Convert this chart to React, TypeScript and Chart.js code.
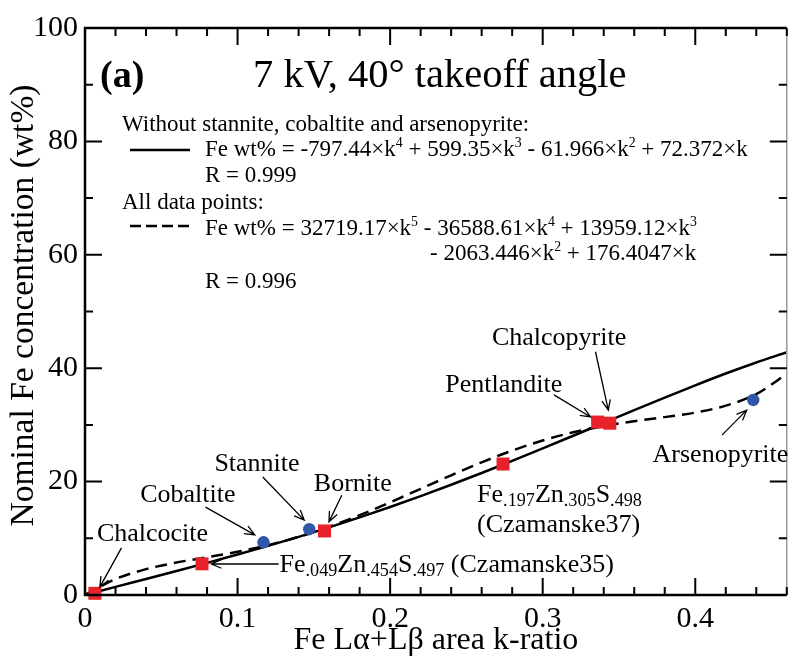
import React, { useEffect, useRef } from 'react';
import { Chart, registerables } from 'chart.js';

Chart.register(...registerables);

const FONT = "'Liberation Serif', 'Times New Roman', Times, serif";

// ---- axis ticks ----
const xTickValues = [0, 0.1, 0.2, 0.3, 0.4];
const xTickLabels = ['0', '0.1', '0.2', '0.3', '0.4'];
const yTickValues = [0, 20, 40, 60, 80, 100];
const yTickLabels = ['0', '20', '40', '60', '80', '100'];
const xMinorStep = 0.02;
const yMinorStep = 10;
const xTitle = 'Fe L\u03B1+L\u03B2 area k-ratio';
const yTitle = 'Nominal Fe concentration (wt%)';

// ---- measured points (red squares: used in fit; blue circles: excluded) ----
const squareK = [0.0065, 0.0767, 0.157, 0.274, 0.336, 0.344];
const squareFe = [0.3, 5.5, 11.3, 23.1, 30.5, 30.3];
const circleK = [0.117, 0.147, 0.438];
const circleFe = [9.3, 11.6, 34.4];

// ---- fitted curves, read at k steps ----
const fitK = [0, 0.02, 0.04, 0.06, 0.08, 0.1, 0.12, 0.14, 0.16, 0.18, 0.2, 0.22, 0.24, 0.26, 0.28, 0.3, 0.32, 0.34, 0.36, 0.38, 0.4, 0.42, 0.44, 0.46];
const fitSolid = [0, 1.43, 2.83, 4.24, 5.67, 7.14, 8.66, 10.26, 11.93, 13.68, 15.51, 17.44, 19.44, 21.52, 23.66, 25.86, 28.09, 30.34, 32.59, 34.81, 36.98, 39.06, 41.01, 42.81];
const fitDashed = [0, 2.81, 4.56, 5.72, 6.66, 7.63, 8.8, 10.26, 12.03, 14.08, 16.34, 18.73, 21.11, 23.4, 25.47, 27.25, 28.7, 29.81, 30.65, 31.37, 32.17, 33.39, 35.44, 39.0];

type Part = { t: string; s?: 'sup' | 'sub' };

// ---- annotation labels (anchored in data units) ----
const annoLabels: { parts: Part[]; k: number; fe: number }[] = [
  { parts: [{ t: 'Chalcocite' }], k: 0.0078, fe: 9.5 },
  { parts: [{ t: 'Cobaltite' }], k: 0.0362, fe: 16.4 },
  { parts: [{ t: 'Stannite' }], k: 0.0848, fe: 21.9 },
  { parts: [{ t: 'Bornite' }], k: 0.150, fe: 18.3 },
  { parts: [{ t: 'Fe' }, { t: '.049', s: 'sub' }, { t: 'Zn' }, { t: '.454', s: 'sub' }, { t: 'S' }, { t: '.497', s: 'sub' }, { t: ' (Czamanske35)' }], k: 0.1275, fe: 4.06 },
  { parts: [{ t: 'Fe' }, { t: '.197', s: 'sub' }, { t: 'Zn' }, { t: '.305', s: 'sub' }, { t: 'S' }, { t: '.498', s: 'sub' }], k: 0.257, fe: 16.4 },
  { parts: [{ t: '(Czamanske37)' }], k: 0.257, fe: 11.1 },
  { parts: [{ t: 'Pentlandite' }], k: 0.2362, fe: 35.8 },
  { parts: [{ t: 'Chalcopyrite' }], k: 0.2667, fe: 44.1 },
  { parts: [{ t: 'Arsenopyrite' }], k: 0.372, fe: 23.5 },
];

const annoArrows: { k1: number; fe1: number; k2: number; fe2: number }[] = [
  { k1: 0.0239, fe1: 8.3, k2: 0.0097, fe2: 1.4 },
  { k1: 0.079, fe1: 15.5, k2: 0.1113, fe2: 10.6 },
  { k1: 0.1165, fe1: 20.8, k2: 0.1437, fe2: 13.2 },
  { k1: 0.1683, fe1: 17.6, k2: 0.1599, fe2: 12.9 },
  { k1: 0.1269, fe1: 5.47, k2: 0.0828, fe2: 5.47 },
  { k1: 0.3074, fe1: 35.3, k2: 0.3314, fe2: 31.4 },
  { k1: 0.3346, fe1: 42.9, k2: 0.343, fe2: 32.6 },
  { k1: 0.4175, fe1: 28.2, k2: 0.4337, fe2: 32.6 },
];

function drawRich(ctx: CanvasRenderingContext2D, parts: Part[], x: number, y: number, size: number) {
  let cx = x;
  ctx.textAlign = 'left';
  ctx.textBaseline = 'alphabetic';
  for (const p of parts) {
    let s = size;
    let dy = 0;
    if (p.s === 'sup') { s = size * 0.6; dy = -size * 0.38; }
    if (p.s === 'sub') { s = size * 0.7; dy = size * 0.15; }
    ctx.font = `${s}px ${FONT}`;
    ctx.fillText(p.t, cx, y + dy);
    cx += ctx.measureText(p.t).width;
  }
}

function drawArrow(ctx: CanvasRenderingContext2D, x1: number, y1: number, x2: number, y2: number) {
  const ang = Math.atan2(y2 - y1, x2 - x1);
  const hl = 11;
  const ha = 0.4;
  ctx.beginPath();
  ctx.moveTo(x1, y1);
  ctx.lineTo(x2, y2);
  ctx.moveTo(x2 - hl * Math.cos(ang - ha), y2 - hl * Math.sin(ang - ha));
  ctx.lineTo(x2, y2);
  ctx.lineTo(x2 - hl * Math.cos(ang + ha), y2 - hl * Math.sin(ang + ha));
  ctx.stroke();
}

const decorPlugin = {
  id: 'decor',
  afterDraw(chart: any) {
    const { ctx, chartArea: ca, scales } = chart;
    const xs = scales.x;
    const ys = scales.y;
    ctx.save();
    ctx.fillStyle = '#000';
    ctx.strokeStyle = '#000';

    // frame
    ctx.lineWidth = 2.5;
    ctx.beginPath();
    ctx.moveTo(ca.right, ca.top);
    ctx.lineTo(ca.left, ca.top);
    ctx.lineTo(ca.left, ca.bottom);
    ctx.lineTo(ca.right, ca.bottom);
    ctx.stroke();
    ctx.strokeStyle = '#9a9a9a';
    ctx.lineWidth = 1.5;
    ctx.beginPath();
    ctx.moveTo(ca.right, ca.top);
    ctx.lineTo(ca.right, ca.bottom);
    ctx.stroke();

    // inward ticks on all four sides
    ctx.strokeStyle = '#000';
    ctx.lineWidth = 2;
    const nx = Math.floor((xs.max + 1e-9) / xMinorStep);
    for (let i = 1; i <= nx; i++) {
      const v = i * xMinorStep;
      const px = xs.getPixelForValue(v);
      const L = i % 5 === 0 ? 17 : 8;
      ctx.beginPath();
      ctx.moveTo(px, ca.bottom);
      ctx.lineTo(px, ca.bottom - L);
      ctx.moveTo(px, ca.top);
      ctx.lineTo(px, ca.top + L);
      ctx.stroke();
    }
    const ny = Math.round(ys.max / yMinorStep);
    for (let i = 1; i < ny; i++) {
      const v = i * yMinorStep;
      const py = ys.getPixelForValue(v);
      const L = i % 2 === 0 ? 17 : 8;
      ctx.beginPath();
      ctx.moveTo(ca.left, py);
      ctx.lineTo(ca.left + L, py);
      ctx.moveTo(ca.right, py);
      ctx.lineTo(ca.right - L, py);
      ctx.stroke();
    }

    // y axis title
    ctx.save();
    ctx.translate(33, (ca.top + ca.bottom) / 2 - 6);
    ctx.rotate(-Math.PI / 2);
    ctx.textAlign = 'center';
    ctx.textBaseline = 'alphabetic';
    ctx.font = `33.5px ${FONT}`;
    ctx.fillText(yTitle, 0, 0);
    ctx.restore();

    // panel title
    ctx.textBaseline = 'alphabetic';
    ctx.textAlign = 'left';
    ctx.font = `bold 38px ${FONT}`;
    ctx.fillText('(a)', ca.left + 15, ca.top + 59);
    ctx.font = `40.5px ${FONT}`;
    ctx.fillText('7 kV, 40\u00B0 takeoff angle', ca.left + 168, ca.top + 59);

    // fit legend
    const L0 = ca.left;
    const T0 = ca.top;
    const fs = 23;
    ctx.font = `${fs}px ${FONT}`;
    ctx.fillText('Without stannite, cobaltite and arsenopyrite:', L0 + 37, T0 + 103);
    drawRich(ctx, [
      { t: 'Fe wt% = -797.44\u00D7k' }, { t: '4', s: 'sup' },
      { t: ' + 599.35\u00D7k' }, { t: '3', s: 'sup' },
      { t: ' - 61.966\u00D7k' }, { t: '2', s: 'sup' },
      { t: ' + 72.372\u00D7k' },
    ], L0 + 120, T0 + 128, fs);
    ctx.font = `${fs}px ${FONT}`;
    ctx.fillText('R = 0.999', L0 + 120, T0 + 154);
    ctx.fillText('All data points:', L0 + 37, T0 + 181);
    drawRich(ctx, [
      { t: 'Fe wt% = 32719.17\u00D7k' }, { t: '5', s: 'sup' },
      { t: ' - 36588.61\u00D7k' }, { t: '4', s: 'sup' },
      { t: ' + 13959.12\u00D7k' }, { t: '3', s: 'sup' },
    ], L0 + 120, T0 + 207, fs);
    drawRich(ctx, [
      { t: '- 2063.446\u00D7k' }, { t: '2', s: 'sup' },
      { t: ' + 176.4047\u00D7k' },
    ], L0 + 345, T0 + 232, fs);
    ctx.font = `${fs}px ${FONT}`;
    ctx.fillText('R = 0.996', L0 + 120, T0 + 260);

    ctx.lineWidth = 2.5;
    ctx.beginPath();
    ctx.moveTo(L0 + 45, T0 + 122);
    ctx.lineTo(L0 + 105, T0 + 122);
    ctx.stroke();
    ctx.setLineDash([11, 5]);
    ctx.beginPath();
    ctx.moveTo(L0 + 45, T0 + 198);
    ctx.lineTo(L0 + 105, T0 + 198);
    ctx.stroke();
    ctx.setLineDash([]);

    // annotations
    for (const a of annoLabels) {
      drawRich(ctx, a.parts, xs.getPixelForValue(a.k), ys.getPixelForValue(a.fe), 26);
    }
    ctx.lineWidth = 1.3;
    for (const a of annoArrows) {
      drawArrow(ctx, xs.getPixelForValue(a.k1), ys.getPixelForValue(a.fe1), xs.getPixelForValue(a.k2), ys.getPixelForValue(a.fe2));
    }
    ctx.restore();
  },
};

export default function App() {
  const ref = useRef<HTMLCanvasElement | null>(null);
  useEffect(() => {
    document.body.style.margin = '0';
    const canvas = ref.current;
    if (!canvas) return;
    const chart = new Chart(canvas, {
      type: 'scatter',
      data: {
        datasets: [
          {
            label: 'Used in fit',
            data: squareK.map((k, i) => ({ x: k, y: squareFe[i] })),
            pointStyle: 'rect',
            pointRadius: 9.2,
            backgroundColor: '#E8222A',
            borderColor: '#E8222A',
            borderWidth: 0,
            clip: false,
          } as any,
          {
            label: 'Excluded',
            data: circleK.map((k, i) => ({ x: k, y: circleFe[i] })),
            pointStyle: 'circle',
            pointRadius: 6.2,
            backgroundColor: '#2F56A8',
            borderColor: '#2F56A8',
            borderWidth: 0,
            clip: false,
          } as any,
          {
            label: 'Fit without stannite, cobaltite, arsenopyrite',
            data: fitK.map((k, i) => ({ x: k, y: fitSolid[i] })),
            showLine: true,
            pointRadius: 0,
            borderColor: '#000',
            borderWidth: 2.5,
            cubicInterpolationMode: 'monotone',
          } as any,
          {
            label: 'Fit all data points',
            data: fitK.map((k, i) => ({ x: k, y: fitDashed[i] })),
            showLine: true,
            pointRadius: 0,
            borderColor: '#000',
            borderWidth: 2.5,
            borderDash: [12, 7],
            cubicInterpolationMode: 'monotone',
          } as any,
        ],
      },
      options: {
        animation: false,
        responsive: false,
        maintainAspectRatio: false,
        layout: { padding: { top: 28, right: 1, left: 0, bottom: 0 } },
        plugins: { legend: { display: false }, tooltip: { enabled: false } },
        scales: {
          x: {
            type: 'linear',
            min: 0,
            max: 0.46,
            afterBuildTicks: (s: any) => { s.ticks = xTickValues.map((v) => ({ value: v })); },
            afterFit: (s: any) => { s.height = 67; },
            ticks: {
              callback: (v: any) => { const i = xTickValues.findIndex((t) => Math.abs(t - v) < 1e-9); return i >= 0 ? xTickLabels[i] : ''; },
              font: { family: FONT, size: 30 },
              color: '#000',
              padding: 6,
              maxRotation: 0,
              autoSkip: false,
            },
            grid: { display: false, drawTicks: false },
            border: { display: false },
            title: { display: true, text: xTitle, font: { family: FONT, size: 32 }, color: '#000', padding: { top: 2, bottom: 2 } },
          },
          y: {
            type: 'linear',
            min: 0,
            max: 100,
            afterBuildTicks: (s: any) => { s.ticks = yTickValues.map((v) => ({ value: v })); },
            afterFit: (s: any) => { s.width = 85; },
            ticks: {
              callback: (v: any) => { const i = yTickValues.findIndex((t) => Math.abs(t - v) < 1e-9); return i >= 0 ? yTickLabels[i] : ''; },
              font: { family: FONT, size: 30 },
              color: '#000',
              padding: 7,
              autoSkip: false,
            },
            grid: { display: false, drawTicks: false },
            border: { display: false },
            title: { display: false },
          },
        },
      } as any,
      plugins: [decorPlugin],
    });
    return () => chart.destroy();
  }, []);
  return (
    <canvas ref={ref} width={796} height={662} style={{ display: 'block', position: 'absolute', left: 0, top: 0 }} />
  );
}
